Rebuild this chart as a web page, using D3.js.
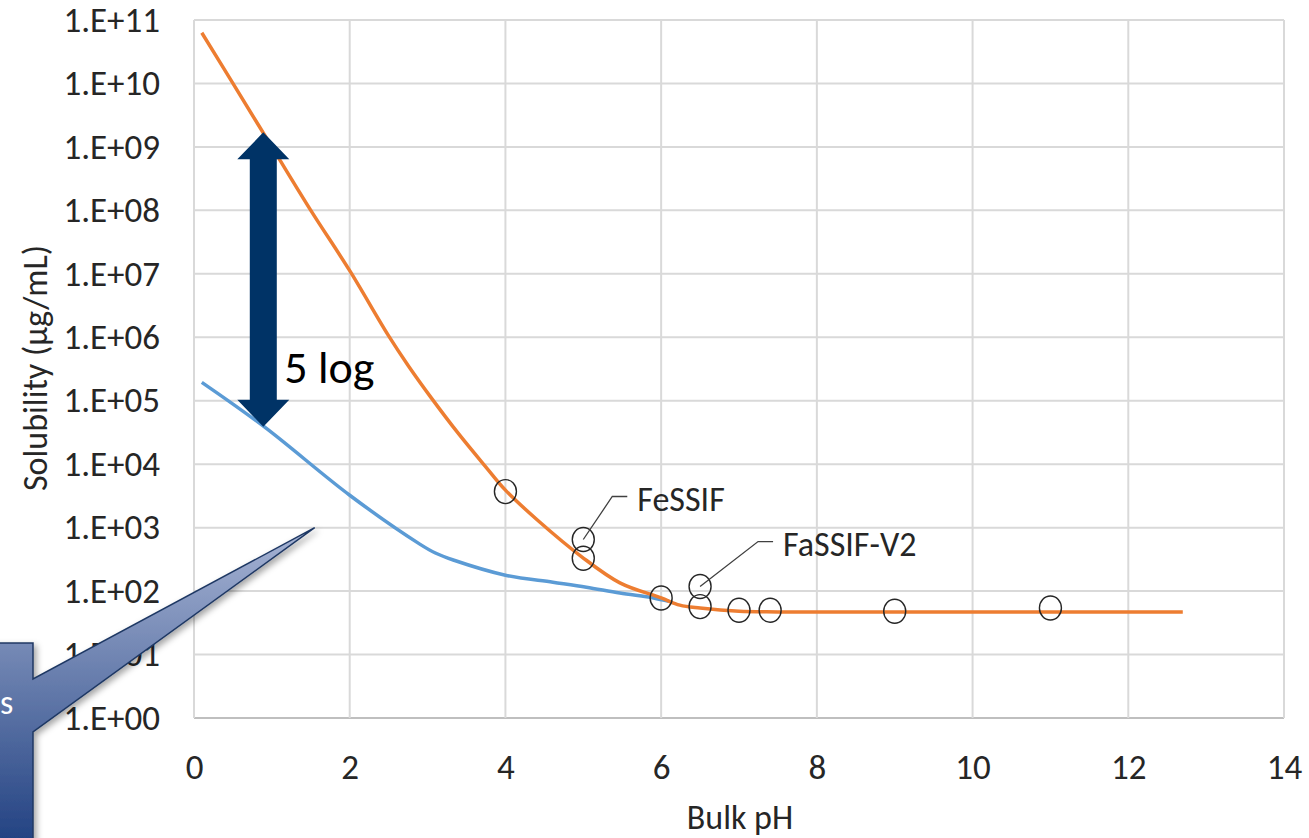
<!DOCTYPE html>
<html>
<head>
<meta charset="utf-8">
<script src="https://cdn.jsdelivr.net/npm/d3@7"></script>
<style>
  body { margin: 0; background: #fff; }
  svg { display: block; font-family: Carlito, "Open Sans", "Noto Sans", sans-serif; }
</style>
</head>
<body>
<svg id="chart" width="1309" height="838"></svg>
<script>
// solubility curves, log scale
var orangePH  = [0.1, 0.5, 1, 1.5, 2, 2.5, 2.75, 3.05, 3.4, 3.76, 4, 4.41, 4.98, 5.47, 6, 6.24, 6.5, 7, 7.5, 9, 11, 12.7];
var orangeSol = [6.3e10, 1e10, 1e9, 1e8, 1.12e7, 1.05e6, 3.6e5, 1.1e5, 3e4, 8.7e3, 3.9e3, 1.32e3, 347, 135, 78, 60, 54, 48, 47, 47, 47, 47];
var bluePH    = [0.1, 0.9, 2, 2.9, 3.1, 3.33, 4, 4.61, 5.04, 5.47, 5.9, 6.1];
var blueSol   = [1.95e5, 3.9e4, 3.24e3, 550, 398, 309, 178, 138, 115, 93, 78, 69];
// measured points
var ptPH  = [4, 5, 5, 6, 6.5, 6.5, 7, 7.4, 9, 11];
var ptSol = [3.7e3, 6.5e2, 3.3e2, 78, 118, 57, 50, 50, 48, 54];
var xTicks = [0, 2, 4, 6, 8, 10, 12, 14];
var yTicks = d3.range(0, 12).map(function(e){ return Math.pow(10, e); });

var svg = d3.select("#chart"),
    pLeft = 194, pRight = 1284, pTop = 20, pBottom = 718;

var x = d3.scaleLinear().domain([0, 14]).range([pLeft, pRight]);
var y = d3.scaleLog().domain([1, 1e11]).range([pBottom, pTop]);

function fmt(v){ var e = Math.round(Math.log10(v)); return "1.E+" + (e < 10 ? "0" + e : e); }

// grid
svg.append("g").selectAll("line").data(yTicks).join("line")
  .attr("x1", pLeft).attr("x2", pRight)
  .attr("y1", function(d){ return y(d); }).attr("y2", function(d){ return y(d); })
  .attr("stroke", function(d){ return d === 1 ? "#bfbfbf" : "#d9d9d9"; })
  .attr("stroke-width", 2);
svg.append("g").selectAll("line").data(xTicks).join("line")
  .attr("x1", function(d){ return x(d); }).attr("x2", function(d){ return x(d); })
  .attr("y1", pTop).attr("y2", pBottom)
  .attr("stroke", "#d9d9d9").attr("stroke-width", 2);

// axes labels
var yAxis = d3.axisLeft(y).tickValues(yTicks).tickFormat(fmt).tickSize(0).tickPadding(34);
var gy = svg.append("g").attr("transform", "translate(" + pLeft + ",0)").call(yAxis);
gy.select(".domain").remove();
gy.attr("font-family", null).attr("font-size", 35);
gy.selectAll("text").attr("fill", "#262626");

var xAxis = d3.axisBottom(x).tickValues(xTicks).tickSize(0).tickPadding(36);
var gx = svg.append("g").attr("transform", "translate(0," + pBottom + ")").call(xAxis);
gx.select(".domain").remove();
gx.attr("font-family", null).attr("font-size", 35);
gx.selectAll("text").attr("fill", "#262626");

svg.append("text").attr("x", 740).attr("y", 829).attr("text-anchor", "middle")
  .attr("font-size", 34).attr("fill", "#262626").text("Bulk pH");
svg.append("text").attr("transform", "translate(47,368) rotate(-90)").attr("text-anchor", "middle")
  .attr("font-size", 34).attr("fill", "#262626").text("Solubility (µg/mL)");

// curves
var line = d3.line().x(function(d){ return x(d[0]); }).y(function(d){ return y(d[1]); }).curve(d3.curveCatmullRom.alpha(0.5));
svg.append("path").datum(d3.zip(bluePH, blueSol)).attr("d", line)
  .attr("fill", "none").attr("stroke", "#5b9bd5").attr("stroke-width", 3.5);
svg.append("path").datum(d3.zip(orangePH, orangeSol)).attr("d", line)
  .attr("fill", "none").attr("stroke", "#ed7d31").attr("stroke-width", 3.5);

// open circles
svg.append("g").selectAll("ellipse").data(d3.zip(ptPH, ptSol)).join("ellipse")
  .attr("cx", function(d){ return x(d[0]); }).attr("cy", function(d){ return y(d[1]); })
  .attr("rx", 11).attr("ry", 12)
  .attr("fill", "none").attr("stroke", "#262626").attr("stroke-width", 1.4);

// data callouts
function callout(px, py, dx, dy, label){
  var cx = x(px), cy = y(py);
  svg.append("polyline")
    .attr("points", [[cx, cy], [cx + dx, cy - dy], [cx + dx + 15, cy - dy]].join(" "))
    .attr("fill", "none").attr("stroke", "#404040").attr("stroke-width", 1.3);
  svg.append("text").attr("x", cx + dx + 25).attr("y", cy - dy + 14)
    .attr("font-size", 34).attr("fill", "#262626").text(label);
}
callout(5, 6.5e2, 29, 43, "FeSSIF");
callout(6.5, 118, 58, 45, "FaSSIF-V2");

// 5 log arrow
var ax = x(0.89), aTop = y(Math.pow(10, 9.23)), aBot = y(Math.pow(10, 4.59));
var sw = 13.5, hw = 26, hh = 27;
svg.append("path")
  .attr("d", "M" + ax + "," + aTop + " L" + (ax + hw) + "," + (aTop + hh) + " L" + (ax + sw) + "," + (aTop + hh) +
    " L" + (ax + sw) + "," + (aBot - hh) + " L" + (ax + hw) + "," + (aBot - hh) + " L" + ax + "," + aBot +
    " L" + (ax - hw) + "," + (aBot - hh) + " L" + (ax - sw) + "," + (aBot - hh) + " L" + (ax - sw) + "," + (aTop + hh) +
    " L" + (ax - hw) + "," + (aTop + hh) + "Z")
  .attr("fill", "#003366");
svg.append("text").attr("x", ax + 21).attr("y", 383).attr("font-size", 46).attr("fill", "#000").text("5 log");

// speech callout bottom-left
var defs = svg.append("defs");
var grad = defs.append("linearGradient").attr("id", "cg").attr("x1", 0).attr("y1", 0).attr("x2", 0).attr("y2", 1);
grad.append("stop").attr("offset", "0%").attr("stop-color", "#a7b4d4");
grad.append("stop").attr("offset", "100%").attr("stop-color", "#1f3f80");
var flt = defs.append("filter").attr("id", "sh").attr("x", "-20%").attr("y", "-20%").attr("width", "150%").attr("height", "150%");
flt.append("feDropShadow").attr("dx", 3).attr("dy", 3).attr("stdDeviation", 3).attr("flood-color", "#000").attr("flood-opacity", 0.35);
svg.append("path")
  .attr("d", "M-10,643 L33,643 L33,679 L" + x(1.55) + "," + y(1e3) + " L33,732 L33,850 L-10,850 Z")
  .attr("fill", "url(#cg)").attr("stroke", "#1f3864").attr("stroke-width", 1.5)
  .attr("filter", "url(#sh)");
svg.append("text").attr("x", 0).attr("y", 714).attr("font-size", 34).attr("fill", "#fff").text("s");
</script>
</body>
</html>
